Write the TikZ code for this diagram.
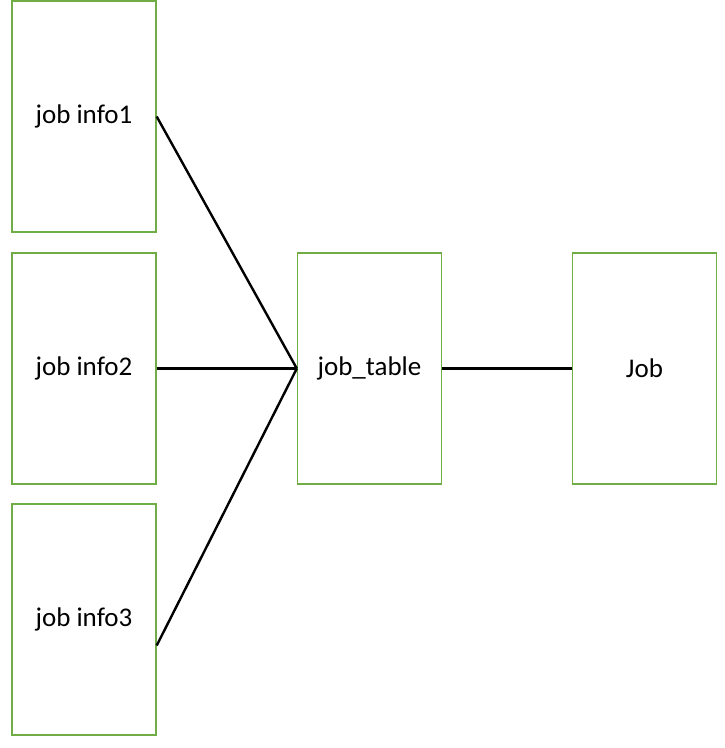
\documentclass[tikz,border=0pt]{standalone}
\usepackage{fontspec}
\setmainfont{Carlito}
\usetikzlibrary{calc}
\definecolor{boxgreen}{RGB}{112,173,71}

\begin{document}
\begin{tikzpicture}[x=1pt, y=-1pt,
    tbl/.style={draw=boxgreen, line width=1.4pt, minimum width=144pt, minimum height=231pt,
      inner sep=0pt, font=\fontsize{27}{32}\selectfont},
    link/.style={line width=2.4pt, black}]
      \useasboundingbox (0,0) rectangle (725,748);
      \node[tbl] (info1) at (84,116.5) {job info1};
      \node[tbl] (info2) at (84,368.5) {job info2};
      \node[tbl] (info3) at (84,619.5) {job info3};
      \node[tbl] (table) at (369.5,368.5) {job\_table};
      \node[tbl] (job) at (644.5,368.5) {Job};
      \coordinate (info3out) at ($(info3.east)+(0,26)$);
      \draw[link] (info1.east) -- (table.west);
      \draw[link] (info2.east) -- (table.west);
      \draw[link] (info3out) -- (table.west);
      \draw[link] (table.east) -- (job.west);
  \end{tikzpicture}
\end{document}
